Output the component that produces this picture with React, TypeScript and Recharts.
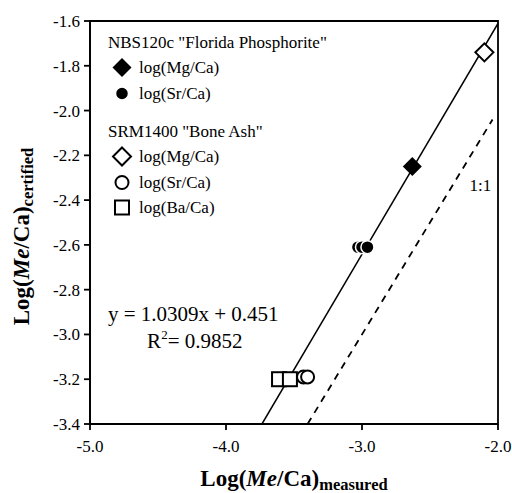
import React from "react";
import { ScatterChart, Scatter, XAxis, YAxis, Legend, ReferenceArea, ReferenceDot, Label } from "recharts";

const xTicks = [-5, -4, -3, -2];
const yTicks = [-3.4, -3.2, -3.0, -2.8, -2.6, -2.4, -2.2, -2.0, -1.8, -1.6];

// NBS120c "Florida Phosphorite"
const nbsMg = [{ x: -2.63, y: -2.25 }];
const nbsSr = [
  { x: -3.03, y: -2.61 },
  { x: -3.0, y: -2.61 },
  { x: -2.96, y: -2.61 },
];

// SRM1400 "Bone Ash"
const srmMg = [{ x: -2.1, y: -1.74 }];
const srmSr = [
  { x: -3.43, y: -3.19 },
  { x: -3.4, y: -3.19 },
];
const srmBa = [
  { x: -3.61, y: -3.2 },
  { x: -3.53, y: -3.2 },
];

const slope = 1.0309;
const intercept = 0.451;
const rSquared = 0.9852;
const fitLine = [
  { x: (-3.4 - intercept) / slope, y: -3.4 },
  { x: -2.0, y: slope * -2.0 + intercept },
];
const oneToOne = [
  { x: -3.4, y: -3.4 },
  { x: -2.04, y: -2.04 },
];

const legendGroups = [
  {
    title: 'NBS120c "Florida Phosphorite"',
    items: [
      { name: "log(Mg/Ca)", marker: "filledDiamond" },
      { name: "log(Sr/Ca)", marker: "filledCircle" },
    ],
  },
  {
    title: 'SRM1400 "Bone Ash"',
    items: [
      { name: "log(Mg/Ca)", marker: "openDiamond" },
      { name: "log(Sr/Ca)", marker: "openCircle" },
      { name: "log(Ba/Ca)", marker: "openSquare" },
    ],
  },
];

const FONT = "'Liberation Serif', 'Times New Roman', serif";

function drawMarker(kind: string, cx: number, cy: number) {
  switch (kind) {
    case "filledDiamond":
      return <path d={`M${cx},${cy - 9.5}L${cx + 9.5},${cy}L${cx},${cy + 9.5}L${cx - 9.5},${cy}Z`} fill="#000" />;
    case "openDiamond":
      return (
        <path
          d={`M${cx},${cy - 9}L${cx + 9},${cy}L${cx},${cy + 9}L${cx - 9},${cy}Z`}
          fill="#fff"
          stroke="#000"
          strokeWidth={2}
        />
      );
    case "filledCircle":
      return <circle cx={cx} cy={cy} r={6.5} fill="#000" stroke="#fff" strokeWidth={1.5} />;
    case "openCircle":
      return <circle cx={cx} cy={cy} r={6.5} fill="#fff" stroke="#000" strokeWidth={2} />;
    case "openSquare":
      return <rect x={cx - 7} y={cy - 7} width={14} height={14} fill="#fff" stroke="#000" strokeWidth={2} />;
    default:
      return <g />;
  }
}

const markerShape = (kind: string) => (p: any) => drawMarker(kind, p.cx, p.cy);
const noShape = () => <g />;

function XTick(props: any) {
  return (
    <text x={props.x} y={props.y + 13} textAnchor="middle" fontFamily={FONT} fontSize={17} fill="#000">
      {props.payload.value.toFixed(1)}
    </text>
  );
}

function YTick(props: any) {
  return (
    <text x={props.x} y={props.y + 6} textAnchor="end" fontFamily={FONT} fontSize={17} fill="#000">
      {props.payload.value.toFixed(1)}
    </text>
  );
}

function LegendBox() {
  return (
    <div style={{ fontFamily: FONT, fontSize: 17, color: "#000", lineHeight: "25px" }}>
      {legendGroups.map((g, gi) => (
        <div key={g.title} style={{ marginTop: gi === 0 ? 0 : 13 }}>
          <div style={{ height: 25, whiteSpace: "nowrap" }}>{g.title}</div>
          {g.items.map((it) => (
            <div key={g.title + it.name} style={{ height: 25.5, display: "flex", alignItems: "center" }}>
              <svg width={28} height={25} style={{ display: "block" }}>
                {drawMarker(it.marker, 14, 12.5)}
              </svg>
              <span style={{ marginLeft: 3 }}>{it.name}</span>
            </div>
          ))}
        </div>
      ))}
    </div>
  );
}

function XTitle(props: any) {
  const vb = props.viewBox;
  return (
    <text x={vb.x + vb.width / 2} y={vb.y + 62} textAnchor="middle" fontFamily={FONT} fontWeight="bold" fontSize={23} fill="#000">
      <tspan>Log(</tspan>
      <tspan fontStyle="italic">Me</tspan>
      <tspan>/Ca)</tspan>
      <tspan fontSize={16.5} dy={4}>measured</tspan>
    </text>
  );
}

function YTitle(props: any) {
  const vb = props.viewBox;
  const x = 29;
  const y = vb.y + vb.height / 2 + 14;
  return (
    <text x={x} y={y} transform={`rotate(-90, ${x}, ${y})`} textAnchor="middle" fontFamily={FONT} fontWeight="bold" fontSize={23} fill="#000">
      <tspan>Log(</tspan>
      <tspan fontStyle="italic">Me</tspan>
      <tspan>/Ca)</tspan>
      <tspan fontSize={16.5} dy={4}>certified</tspan>
    </text>
  );
}

function EquationText(props: any) {
  const vb = props.viewBox;
  return (
    <text x={vb.x} y={vb.y} fontFamily={FONT} fontSize={21} fill="#000">
      {`y = ${slope}x + ${intercept}`}
    </text>
  );
}

function RSquaredText(props: any) {
  const vb = props.viewBox;
  return (
    <text x={vb.x} y={vb.y} fontFamily={FONT} fontSize={21} fill="#000">
      {"R"}
      <tspan fontSize={13} dy={-9}>2</tspan>
      <tspan dy={9}>{`= ${rSquared}`}</tspan>
    </text>
  );
}

function OneToOneText(props: any) {
  const vb = props.viewBox;
  return (
    <text x={vb.x} y={vb.y} textAnchor="middle" dominantBaseline="central" fontFamily={FONT} fontSize={17} fill="#000">
      1:1
    </text>
  );
}

export default function App() {
  return (
    <div style={{ position: "absolute", left: 0, top: 0, width: 512, height: 493, background: "#fff" }}>
      <ScatterChart width={512} height={493} margin={{ top: 21, right: 14, bottom: 0, left: 0 }}>
        <XAxis
          type="number"
          dataKey="x"
          domain={[-5, -2]}
          ticks={xTicks}
          allowDataOverflow
          height={69}
          tick={XTick}
          tickSize={6}
          tickMargin={9}
          stroke="#000"
          strokeWidth={1.8}
        >
          <Label content={XTitle} />
        </XAxis>
        <YAxis
          type="number"
          dataKey="y"
          domain={[-3.4, -1.6]}
          ticks={yTicks}
          allowDataOverflow
          width={90}
          tick={YTick}
          tickSize={6}
          tickMargin={4}
          stroke="#000"
          strokeWidth={1.8}
        >
          <Label content={YTitle} />
        </YAxis>
        <ReferenceArea x1={-5} x2={-2} y1={-3.4} y2={-1.6} fill="none" stroke="#000" strokeWidth={1.8} />
        <Legend
          layout="vertical"
          align="center"
          verticalAlign="middle"
          content={() => <LegendBox />}
          wrapperStyle={{ left: 108, top: 30, width: "auto", height: "auto" }}
        />
        <Scatter data={fitLine} line={{ stroke: "#000", strokeWidth: 1.5 }} shape={noShape} legendType="none" isAnimationActive={false} />
        <Scatter
          data={oneToOne}
          line={{ stroke: "#000", strokeWidth: 1.8, strokeDasharray: "7 6" }}
          shape={noShape}
          legendType="none"
          isAnimationActive={false}
        />
        <Scatter name="NBS log(Mg/Ca)" data={nbsMg} shape={markerShape("filledDiamond")} isAnimationActive={false} />
        <Scatter name="NBS log(Sr/Ca)" data={nbsSr} shape={markerShape("filledCircle")} isAnimationActive={false} />
        <Scatter name="SRM log(Mg/Ca)" data={srmMg} shape={markerShape("openDiamond")} isAnimationActive={false} />
        <Scatter name="SRM log(Sr/Ca)" data={srmSr} shape={markerShape("openCircle")} isAnimationActive={false} />
        <Scatter name="SRM log(Ba/Ca)" data={srmBa} shape={markerShape("openSquare")} isAnimationActive={false} />
        <ReferenceDot x={-4.868} y={-2.94} r={0} label={<Label content={EquationText} />} />
        <ReferenceDot x={-4.58} y={-3.06} r={0} label={<Label content={RSquaredText} />} />
        <ReferenceDot x={-2.13} y={-2.335} r={0} label={<Label content={OneToOneText} />} />
      </ScatterChart>
    </div>
  );
}
